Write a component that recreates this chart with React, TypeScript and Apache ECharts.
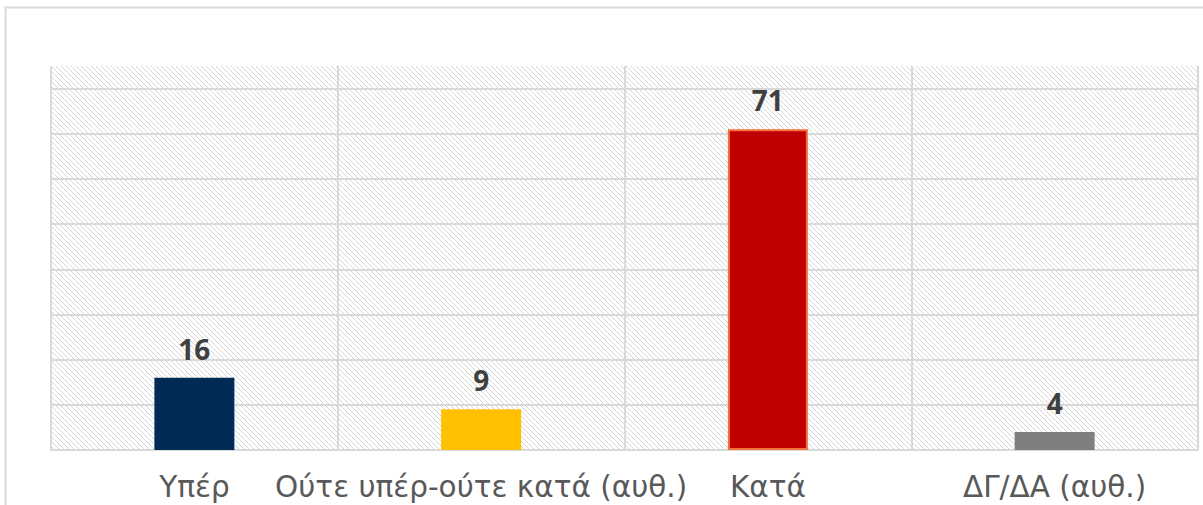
import React, { useEffect, useRef } from "react";
import * as echarts from "echarts";

const categories = ["Υπέρ", "Ούτε υπέρ-ούτε κατά (αυθ.)", "Κατά", "ΔΓ/ΔΑ (αυθ.)"];
const values = [16, 9, 71, 4];
const barColors = ["#002B54", "#FFC000", "#C00000", "#7F7F7F"];
const barBorders = ["#002B54", "#FFC000", "#F5703A", "#7F7F7F"];

function makeHatch(): string {
  const c = document.createElement("canvas");
  c.width = 5;
  c.height = 5;
  const ctx = c.getContext("2d")!;
  ctx.fillStyle = "#ffffff";
  ctx.fillRect(0, 0, 5, 5);
  ctx.fillStyle = "#d6d6d6";
  for (let i = 0; i < 5; i++) ctx.fillRect(i, i, 1, 1);
  return c.toDataURL();
}

export default function App() {
  const ref = useRef<HTMLDivElement>(null);
  useEffect(() => {
    if (!ref.current) return;
    const chart = echarts.init(ref.current, null, { renderer: "svg" });
    const hatch = makeHatch();
    chart.setOption({
      animation: false,
      backgroundColor: "#ffffff",
      graphic: [
        {
          type: "rect",
          shape: { x: 5.5, y: 7.5, width: 1400, height: 700 },
          style: { fill: "none", stroke: "#d9d9d9", lineWidth: 2 },
          z: -10,
          silent: true,
        },
      ],
      grid: {
        left: 51,
        top: 66,
        right: 5,
        bottom: 55,
        show: true,
        borderWidth: 0,
        backgroundColor: { image: hatch, repeat: "repeat", imageWidth: 5, imageHeight: 5 },
      },
      xAxis: {
        type: "category",
        data: categories,
        axisLine: { show: true, lineStyle: { color: "#d9d9d9", width: 2 } },
        axisTick: { show: false },
        splitLine: { show: true, lineStyle: { color: "#d9d9d9", width: 2 } },
        axisLabel: {
          color: "#595959",
          fontFamily: "DejaVu Sans",
          fontSize: 29.5,
          margin: 22,
          interval: 0,
        },
      },
      yAxis: {
        type: "value",
        min: 0,
        max: 85,
        interval: 10,
        axisLine: { show: false },
        axisTick: { show: false },
        axisLabel: { show: false },
        splitLine: { show: true, showMaxLine: false, lineStyle: { color: "#d9d9d9", width: 2 } },
      },
      series: [
        {
          type: "bar",
          barWidth: 80,
          data: values.map((v, i) => ({
            value: v,
            itemStyle: { color: barColors[i], borderColor: barBorders[i], borderWidth: i === 2 ? 2 : 0 },
          })),
          label: {
            show: true,
            position: "top",
            distance: 15,
            color: "#404040",
            fontFamily: "Open Sans",
            fontWeight: "bold",
            fontSize: 28,
          },
        },
      ],
    });
    return () => chart.dispose();
  }, []);
  return (
    <div
      ref={ref}
      style={{ position: "absolute", left: 0, top: 0, width: 1203, height: 505 }}
    />
  );
}
